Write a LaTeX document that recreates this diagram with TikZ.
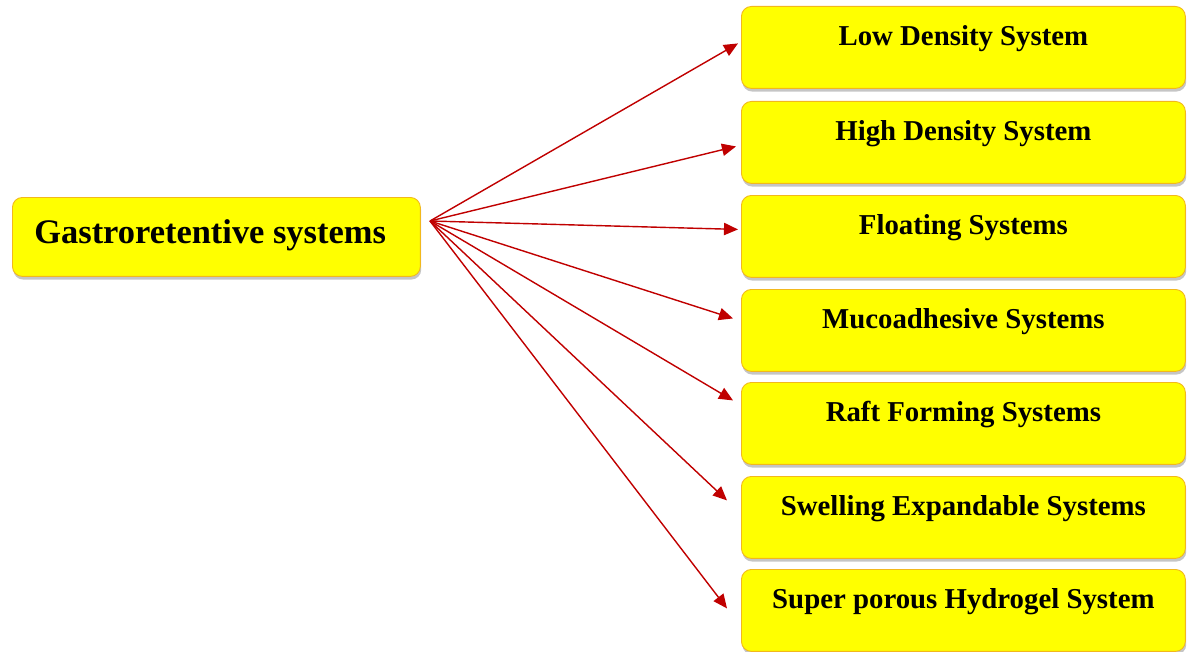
\documentclass[tikz,border=0pt]{standalone}
\usepackage{fontspec}
\setmainfont{Liberation Serif}
\usetikzlibrary{arrows.meta,shadows,calc}

\definecolor{boxyellow}{HTML}{FFFF00}
\definecolor{boxedge}{HTML}{F2B81C}
\definecolor{arrowred}{HTML}{C00000}

\tikzset{
  gsbox/.style={rectangle, draw=boxedge, fill=boxyellow, line width=0.5pt,
    rounded corners=0.2cm, drop shadow={shadow xshift=0.5pt, shadow yshift=-1.8pt, fill=black!45},
    anchor=north west, inner xsep=0pt, inner ysep=0pt},
  mainbox/.style={gsbox, minimum width=8.16cm, minimum height=1.58cm,
    text height=0.92cm, text depth=0.66cm, font=\fontsize{19.6}{23}\selectfont\bfseries},
  sysbox/.style={gsbox, minimum width=8.88cm, minimum height=1.64cm,
    text height=0.78cm, text depth=0.86cm, font=\fontsize{16.4}{19}\selectfont\bfseries},
  link/.style={arrowred, line width=0.8pt, -{Triangle[length=8pt,width=7pt]}}
}

\begin{document}
\begin{tikzpicture}[x=0.02cm,y=-0.02cm]
    \useasboundingbox (0,0) rectangle (1187,652);

    % --- Boîte principale ---
    \node[mainbox] (gs) at (12,197) {Gastroretentive systems\hspace*{0.25cm}};
    \coordinate (hub) at (430,221); % point de départ des flèches

    % --- Les sept systèmes ---
    \foreach \n/\top/\txt in {1/6/Low Density System, 2/101/High Density System,
        3/195/Floating Systems, 4/289/Mucoadhesive Systems, 5/382/Raft Forming Systems,
        6/476/Swelling Expandable Systems, 7/569/Super porous Hydrogel System}
        \node[sysbox] (b\n) at (741,\top) {\txt};

    % --- Flèches ---
    \foreach \n/\dx/\dy in {1/-3/-4, 2/-5/4, 3/-3/-7, 4/-8/-12, 5/-8/-23, 6/-14/-17, 7/-14/-2}
        \draw[link] (hub) -- ($(b\n.west)+(\dx,\dy)$);

\end{tikzpicture}
\end{document}
